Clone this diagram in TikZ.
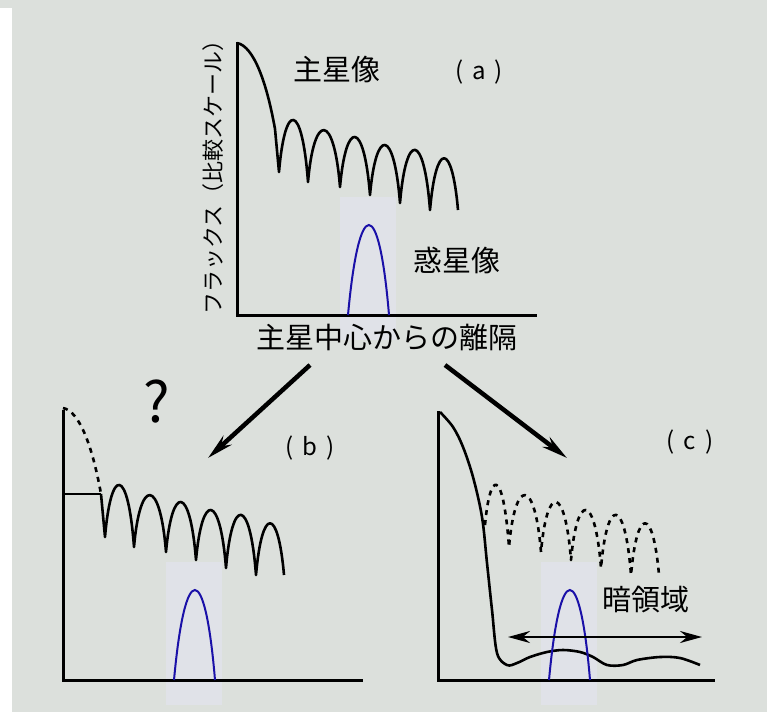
\documentclass[tikz,border=0pt]{standalone}
\usepackage{fontspec}
\newfontfamily\jp{Noto Sans CJK JP}
\usetikzlibrary{arrows.meta, positioning}
\definecolor{cbg}{HTML}{DCE0DC}
\definecolor{cblue}{HTML}{1A10A8}
\definecolor{chalo}{HTML}{E0E2E8}
\tikzset{
  every picture/.style={line width=2.6pt},
  axis/.style={draw=black, line width=3pt},
  curve/.style={draw=black, line width=2.6pt, line join=round},
  dashcurve/.style={curve, dash pattern=on 5pt off 5pt},
  peak/.style={draw=cblue, line width=2pt},
  bigarrow/.style={-{Stealth[length=26pt, width=12pt]}, line width=4.5pt},
  gaparrow/.style={{Stealth[length=22pt, width=12pt]}-{Stealth[length=22pt, width=12pt]}, line width=2.4pt},
  jtext/.style={font=\jp\fontsize{29pt}{29pt}\selectfont, inner sep=0pt},
  axtext/.style={font=\jp\fontsize{22pt}{22pt}\selectfont, inner sep=0pt},
  tag/.style={font=\jp\fontsize{24pt}{24pt}\selectfont, inner sep=0pt},
}
\newcommand{\primcore}{(237,43) .. controls (254,46) and (267,84) .. (275,129)}
\newcommand{\restlobes}{(308,182) \foreach \xa/\xb/\yb/\c in {308/340/187/112, 340/370/195/119, 370/400/203/127, 400/430/210/131, 430/458/210/141}{ .. controls (\xa+6,\c) and (\xb-6,\c) .. (\xb,\yb)}}
\newcommand{\planpeak}{(348,315) .. controls (359,195) and (379,195) .. (389,315)}

\begin{document}
\begin{tikzpicture}[x=1pt, y=-1pt]
  \useasboundingbox (0,0) rectangle (767,712);
  \fill[cbg] (0,0) rectangle (767,712);
  \fill[white] (0,8) rectangle (12,712);
  % panel (a)
  \fill[chalo] (340,197) rectangle (396,340);
  \draw[axis] (237,42) |- (537,315);
  \draw[curve] \primcore -- (279,172) .. controls (285,101) and (302,101) .. \restlobes;
  \draw[peak] \planpeak;
  \node[jtext] (prim) at (337,70) {主星像};
  \node[tag] (tagA) at (479,72) {(\hspace{9pt}a\hspace{9pt})};
  \node[jtext] (plan) at (457,260) {惑星像};
  \node[jtext] (dist) at (387,337) {主星中心からの離隔};
  \node[axtext, rotate=90] (flux) at (213,172) {フラックス（比較スケール）};
  % arrows to (b) and (c)
  \coordinate (srcB) at (310,365);
  \coordinate (tipB) at (208,458);
  \coordinate (srcC) at (445,365);
  \coordinate (tipC) at (567,458);
  \draw[bigarrow] (srcB) -- (tipB);
  \draw[bigarrow] (srcC) -- (tipC);
  % panel (b)
  \begin{scope}[shift={(-174,365)}]
  \fill[chalo] (340,197) rectangle (396,340);
  \draw[axis] (237,45) |- (537,315);
  \draw[dashcurve] \primcore;
  \draw[curve] (275,129) -- (279,172) .. controls (285,101) and (302,101) .. \restlobes;
  \coordinate (lvlB) at (237,129);
  \coordinate (cutB) at (275,129);
  \draw[line width=2pt] (lvlB) -- (cutB);
  \draw[peak] \planpeak;
  \node[font=\jp\fontsize{56pt}{56pt}\selectfont, inner sep=0pt] (quest) at (331,37) {?};
  \node[tag] (tagB) at (484,83) {(\hspace{9pt}b\hspace{9pt})};
  \end{scope}
  % panel (c)
  \begin{scope}[shift={(201,365)}]
  \fill[chalo] (340,197) rectangle (396,340);
  \draw[axis] (237,46) |- (514,315);
  \draw[curve] plot[smooth, tension=0.55] coordinates {(239,47) (252,62) (262,82) (272,112) (281,152) (286,198) (291,245) (296,288) (306,300) (316,298) (329,292) (346,287) (362,285) (379,287) (392,292) (406,300) (422,300) (436,295) (459,292) (479,293) (499,300)};
  \draw[dashcurve] (284,160) .. controls (289,105) and (302,101) .. \restlobes;
  \draw[peak] \planpeak;
  \coordinate (gapL) at (307,272);
  \coordinate (gapR) at (501,272);
  \draw[gaparrow] (gapL) -- (gapR);
  \node[jtext] (dark) at (445,235) {暗領域};
  \node[tag] (tagC) at (489,77) {(\hspace{9pt}c\hspace{9pt})};
  \end{scope}
\end{tikzpicture}
\end{document}
